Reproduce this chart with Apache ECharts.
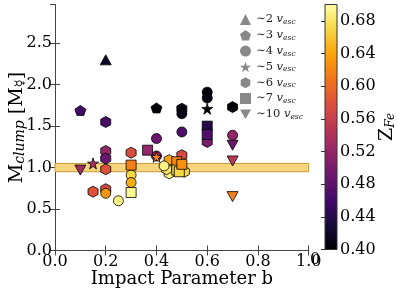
<!DOCTYPE html>
<html><head><meta charset="utf-8">
<script src="https://cdn.jsdelivr.net/npm/echarts@6/dist/echarts.min.js"></script>
<style>html,body{margin:0;padding:0;background:#fff}#c{width:399px;height:294px}</style>
</head><body><div id="c"></div>
<script>
// [impact parameter b, M_clump, Z_Fe]
const triUp = [[0.20, 2.30, 0.42]];
const pentagons = [[0.10, 1.69, 0.46], [0.40, 1.72, 0.40]];
const hexagons = [
  [0.20, 1.55, 0.465], [0.20, 1.20, 0.52], [0.20, 1.11, 0.49], [0.20, 0.98, 0.58],
  [0.15, 0.71, 0.58], [0.20, 0.74, 0.57], [0.30, 1.18, 0.575], [0.50, 1.71, 0.405],
  [0.50, 1.15, 0.57], [0.45, 1.09, 0.64], [0.45, 0.93, 0.69], [0.44, 0.98, 0.68],
  [0.51, 0.95, 0.67], [0.60, 1.31, 0.50], [0.70, 1.73, 0.40]
];
const circles = [
  [0.20, 0.69, 0.63], [0.25, 0.60, 0.69], [0.30, 0.91, 0.67], [0.30, 0.82, 0.645],
  [0.40, 1.35, 0.49], [0.40, 1.14, 0.51], [0.43, 1.02, 0.69], [0.50, 1.65, 0.41],
  [0.50, 1.43, 0.47], [0.60, 1.91, 0.40], [0.60, 1.84, 0.405], [0.70, 1.39, 0.52]
];
const stars = [[0.15, 1.05, 0.535], [0.40, 1.13, 0.62], [0.60, 1.71, 0.40]];
const squares = [
  [0.30, 1.03, 0.615], [0.30, 0.70, 0.695], [0.365, 1.21, 0.52], [0.48, 1.07, 0.62],
  [0.48, 0.97, 0.665], [0.49, 0.95, 0.67], [0.50, 1.04, 0.625], [0.60, 1.50, 0.44],
  [0.60, 1.40, 0.47]
];
const triDown = [[0.10, 0.97, 0.53], [0.70, 1.27, 0.49], [0.70, 1.08, 0.55], [0.70, 0.65, 0.615]];
const band = [0.95, 1.05];
const xTicks = [0, 0.2, 0.4, 0.6, 0.8, 1.0];
const yTicks = [0, 0.5, 1.0, 1.5, 2.0, 2.5];
const zRange = [0.40, 0.70];
const zTickStep = 0.04;
const legendNames = ['2', '3', '4', '5', '6', '7', '10'];

const inferno = ['#000004','#160b39','#420a68','#6a176e','#932667','#bc3754','#dd513a','#f37819','#fca50a','#f6d746','#fcffa4'];
const F = 'DejaVu Serif';
const P = {
  pent: 'path://M0,-1 L0.951,-0.309 L0.588,0.809 L-0.588,0.809 L-0.951,-0.309 Z',
  hex: 'path://M0,-1 L0.866,-0.5 L0.866,0.5 L0,1 L-0.866,0.5 L-0.866,-0.5 Z',
  star: 'path://M0,-1 L0.2245,-0.309 L0.951,-0.309 L0.363,0.118 L0.588,0.809 L0,0.382 L-0.588,0.809 L-0.363,0.118 L-0.951,-0.309 L-0.2245,-0.309 Z',
  tdown: 'path://M-1,-0.866 L1,-0.866 L0,0.866 Z'
};
const base = {type:'scatter', xAxisIndex:0, yAxisIndex:0, z:3,
  itemStyle:{borderColor:'#000', borderWidth:0.8, opacity:1}, emphasis:{disabled:true}};
function S(name, data, symbol, size){ return Object.assign({}, base, {name, data, symbol, symbolSize:size}); }

const chart = echarts.init(document.getElementById('c'), null, {renderer:'canvas'});
const series = [
  {type:'scatter', data:[], xAxisIndex:0, yAxisIndex:0, z:1, silent:true,
    markArea:{silent:true, itemStyle:{color:'#f8d57c', borderColor:'#c49a3c', borderWidth:1},
      data:[[{yAxis:band[0]},{yAxis:band[1]}]]}},
  S('2', triUp, 'triangle', [11,10]),
  S('3', pentagons, P.pent, [11,10]),
  S('6', hexagons, P.hex, [10,11]),
  S('4', circles, 'circle', 10),
  S('5', stars, P.star, [11,11]),
  S('7', squares, 'rect', 10),
  S('10', triDown, P.tdown, [11,10])
];
const tickLab = {fontFamily:F, fontSize:16, color:'#000', hideOverlap:false};
chart.setOption({
  animation:false,
  backgroundColor:'#fff',
  grid:[{left:55, top:4.7, width:253.7, height:245.8, outerBoundsMode:'none', containLabel:false},
        {left:325, top:4.5, width:12, height:245, outerBoundsMode:'none', containLabel:false}],
  xAxis:[
    {gridIndex:0, type:'value', min:xTicks[0], max:xTicks[xTicks.length-1], interval:0.2,
     axisLine:{lineStyle:{color:'#444', width:1}}, axisTick:{inside:true, length:5, lineStyle:{color:'#444'}},
     splitLine:{show:false}, axisLabel:Object.assign({margin:3, formatter:v=>v.toFixed(1)}, tickLab),
     name:'Impact Parameter b', nameLocation:'middle', nameGap:20, nameMoveOverlap:false,
     nameTextStyle:{fontFamily:F, fontSize:18, color:'#000'}},
    {gridIndex:0, type:'value', position:'top', min:0, max:1, interval:0.2,
     axisLine:{lineStyle:{color:'#444'}}, axisTick:{inside:true, length:5, lineStyle:{color:'#444'}},
     axisLabel:{show:false}, splitLine:{show:false}},
    {gridIndex:1, type:'value', show:false, min:0, max:1}
  ],
  yAxis:[
    {gridIndex:0, type:'value', min:yTicks[0], max:2.965, interval:0.5,
     axisLine:{lineStyle:{color:'#444'}}, axisTick:{inside:true, length:5, lineStyle:{color:'#444'}},
     splitLine:{show:false}, axisLabel:Object.assign({margin:3, showMaxLabel:false, formatter:v=>v.toFixed(1)}, tickLab),
     name:'M{s|clump} [M{m|☿}]', nameLocation:'middle', nameGap:28, nameMoveOverlap:false,
     nameTextStyle:{fontFamily:F, fontSize:19, color:'#000', rich:{
       s:{fontFamily:F, fontSize:14, fontStyle:'italic', verticalAlign:'bottom', lineHeight:14, color:'#000'},
       m:{fontSize:13, verticalAlign:'bottom', lineHeight:13, color:'#000'}}}},
    {gridIndex:0, type:'value', position:'right', min:0, max:2.965, interval:0.5,
     axisLine:{lineStyle:{color:'#444'}}, axisTick:{inside:true, length:5, lineStyle:{color:'#444'}},
     axisLabel:{show:false}, splitLine:{show:false}},
    {gridIndex:1, type:'value', position:'right', min:zRange[0], max:zRange[1], interval:zTickStep,
     axisLine:{show:false}, axisTick:{inside:true, length:4, lineStyle:{color:'#333'}},
     splitLine:{show:false}, axisLabel:Object.assign({margin:3, showMaxLabel:false, formatter:v=>v.toFixed(2)}, tickLab),
     name:'Z{s|Fe}', nameLocation:'middle', nameGap:41, nameRotate:90, nameMoveOverlap:false,
     nameTextStyle:{fontFamily:F, fontSize:19, color:'#000', rich:{
       s:{fontFamily:F, fontSize:12, fontStyle:'italic', verticalAlign:'bottom', lineHeight:12, color:'#000'}}}}
  ],
  visualMap:{show:false, type:'continuous', min:zRange[0], max:zRange[1], dimension:2,
    seriesIndex:[1,2,3,4,5,6,7], inRange:{color:inferno}},
  legend:{orient:'vertical', left:235, top:8, itemWidth:11, itemHeight:11, itemGap:2.8,
    selectedMode:false,
    data:legendNames.map(n=>({name:n, itemStyle:{color:'#888', borderWidth:0}})),
    formatter:n=>'∼'+n+' {v|v}{s|esc}',
    textStyle:{fontFamily:F, fontSize:11.5, color:'#222', lineHeight:13,
      rich:{v:{fontFamily:F, fontSize:11.5, fontStyle:'italic', color:'#222', lineHeight:13},
            s:{fontFamily:F, fontSize:7.5, fontStyle:'italic', color:'#222', verticalAlign:'bottom', lineHeight:7}}}},
  graphic:[
    {type:'rect', z:-1, shape:{x:325, y:4.5, width:12, height:245},
     style:{fill:new echarts.graphic.LinearGradient(0,1,0,0, inferno.map((c,i)=>({offset:i/(inferno.length-1), color:c}))),
       stroke:'#333', lineWidth:1}},
    {type:'text', left:310, top:252, style:{text:'0', font:'16px "DejaVu Serif"', fill:'#000'}}
  ],
  series
});
</script></body></html>
